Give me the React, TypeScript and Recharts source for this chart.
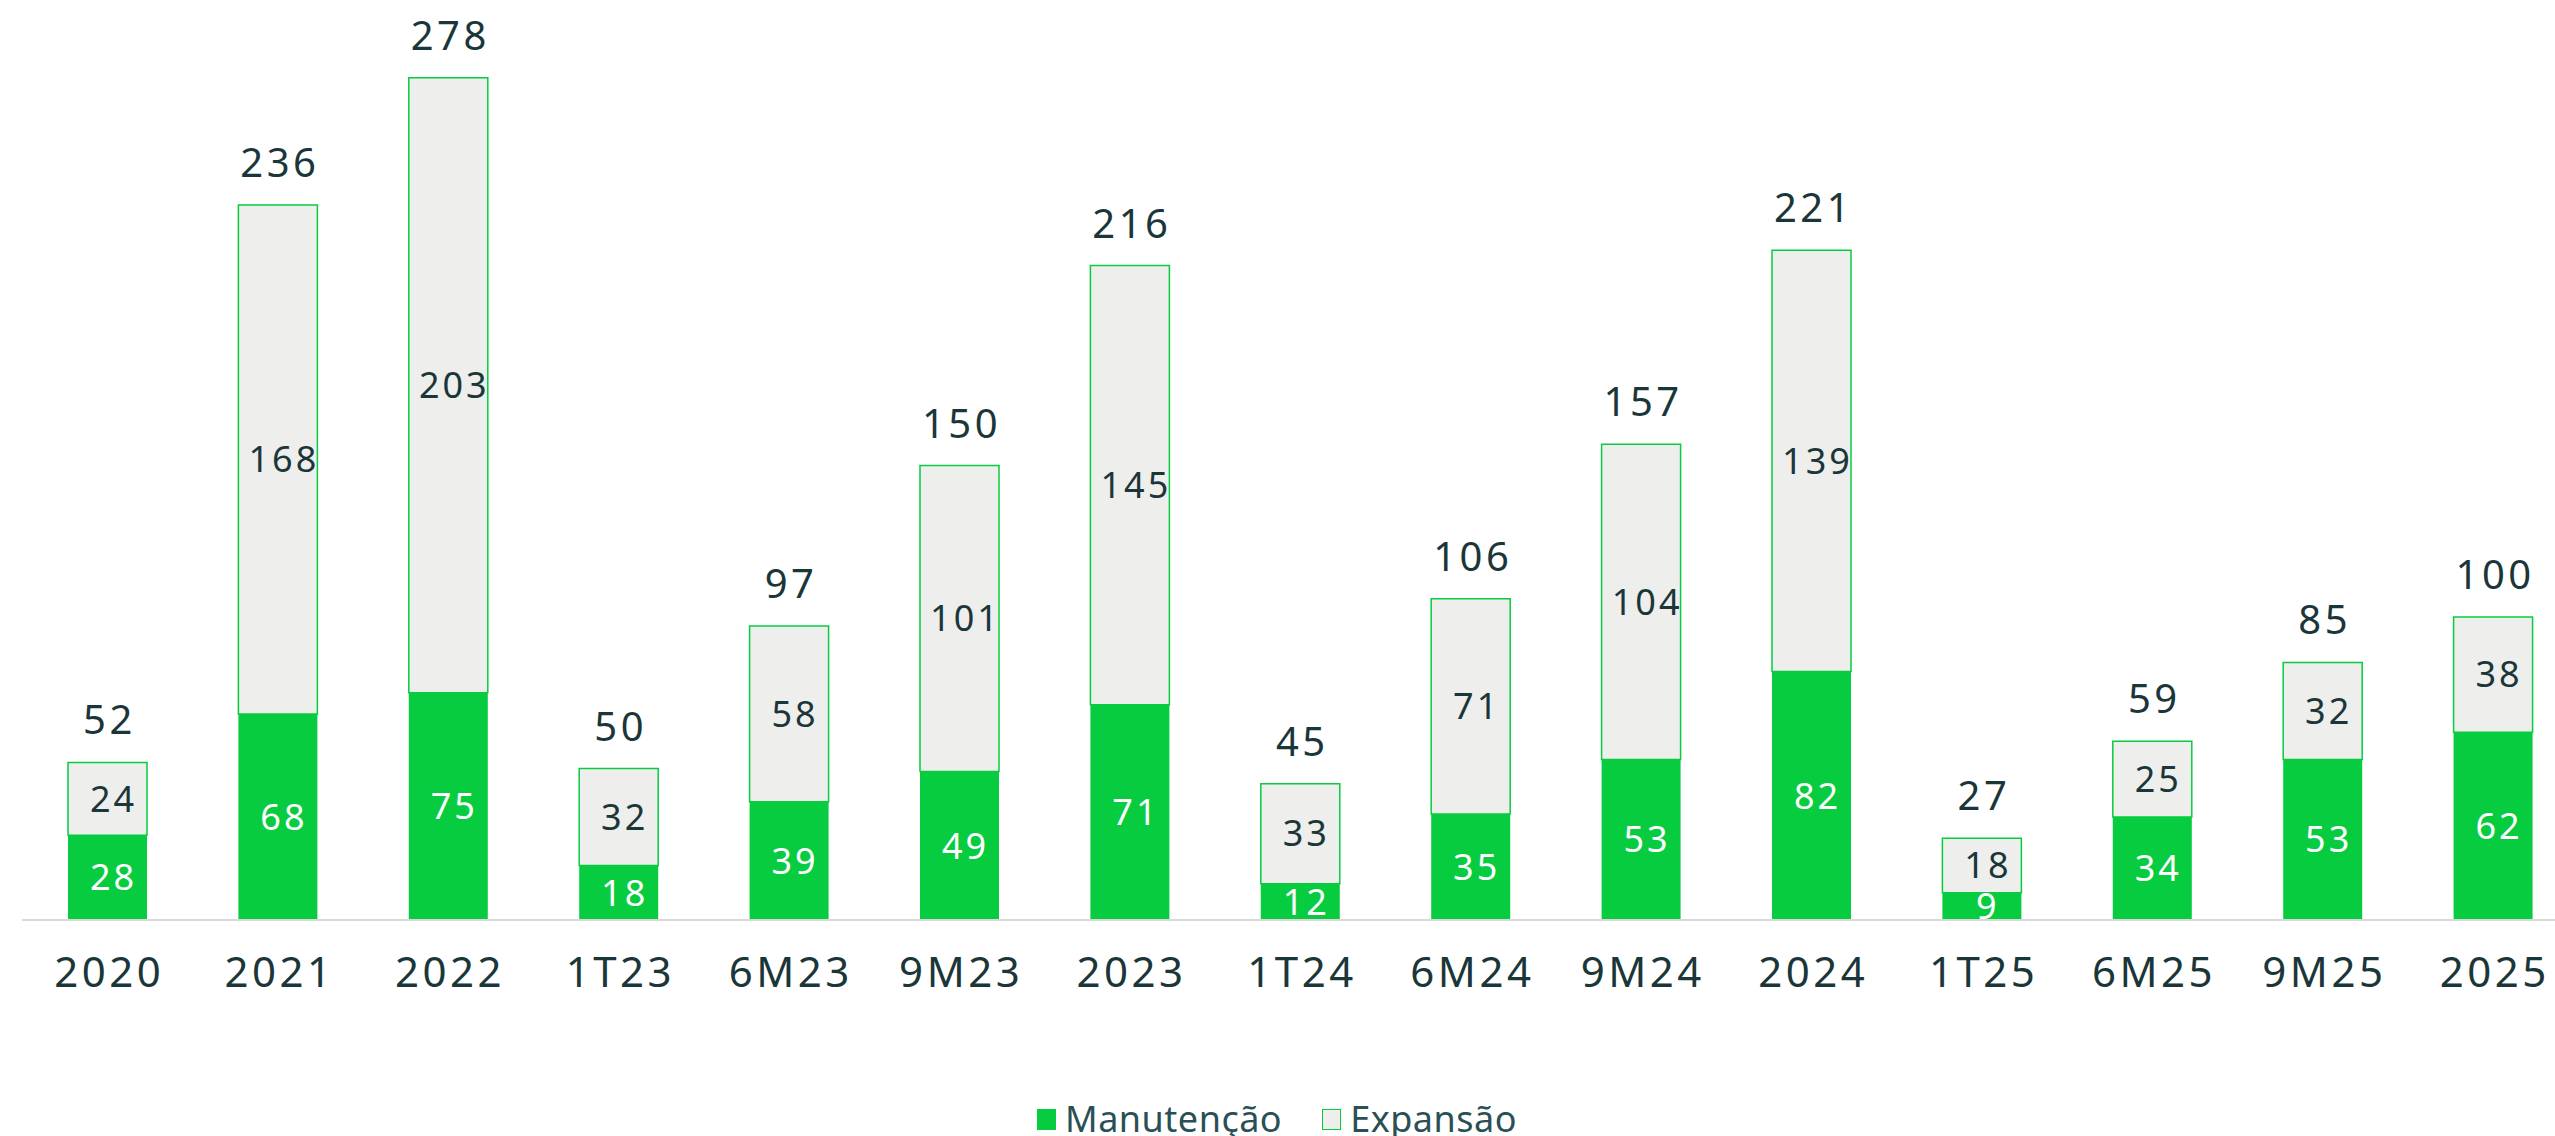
import React from 'react';
import { BarChart, Bar, XAxis, YAxis, LabelList } from 'recharts';

const categories = ['2020', '2021', '2022', '1T23', '6M23', '9M23', '2023', '1T24', '6M24', '9M24', '2024', '1T25', '6M25', '9M25', '2025'];
const manutencao = [28, 68, 75, 18, 39, 49, 71, 12, 35, 53, 82, 9, 34, 53, 62];
const expansao = [24, 168, 203, 32, 58, 101, 145, 33, 71, 104, 139, 18, 25, 32, 38];
const totais = [52, 236, 278, 50, 97, 150, 216, 45, 106, 157, 221, 27, 59, 85, 100];

const GREEN = '#08cc3f';
const GREY = '#eeeeec';
const TEXT = '#1b3639';
const FONT = '"Noto Sans", sans-serif';

const data = categories.map((cat, i) => ({
  cat,
  manutencao: manutencao[i],
  expansao: expansao[i],
  total: totais[i],
}));

export default function App() {
  return (
    <div style={{ position: 'absolute', left: 0, top: 0, width: 2555, height: 1136, overflow: 'hidden', background: '#fff', fontFamily: FONT }}>
      <BarChart
        width={2580}
        height={1136}
        data={data}
        margin={{ top: 11, left: 22, right: 2, bottom: 0 }}
        barSize={79}
      >
        <YAxis hide domain={[0, 300]} />
        <XAxis
          dataKey="cat"
          height={216}
          axisLine={{ stroke: '#d9d9d9', strokeWidth: 2 }}
          tickLine={false}
          tickMargin={31}
          tick={{ fontSize: 42, fill: TEXT, fontFamily: FONT, letterSpacing: 3.5, dx: 2 }}
          interval={0}
        />
        <Bar dataKey="manutencao" stackId="a" fill={GREEN} isAnimationActive={false}>
          <LabelList dataKey="manutencao" position="center" dx={6} fill="#ffffff" fontSize={36} fontFamily={FONT} style={{ letterSpacing: 3 }} />
        </Bar>
        <Bar dataKey="expansao" stackId="a" fill={GREY} stroke={GREEN} strokeWidth={1.5} isAnimationActive={false}>
          <LabelList dataKey="expansao" position="center" dx={6} fill={TEXT} fontSize={36} fontFamily={FONT} style={{ letterSpacing: 3 }} />
          <LabelList dataKey="total" position="top" offset={28} dx={2} fill={TEXT} fontSize={40} fontFamily={FONT} style={{ letterSpacing: 3.5 }} />
        </Bar>
      </BarChart>
      <div style={{ position: 'absolute', left: 1037, top: 1097, display: 'flex', alignItems: 'center', fontSize: 36, color: '#2a5055', lineHeight: '44px', letterSpacing: 0.5 }}>
        <span style={{ display: 'inline-block', width: 19, height: 21, background: GREEN, marginRight: 9 }} />
        <span>Manutenção</span>
        <span style={{ display: 'inline-block', width: 17, height: 19, background: GREY, border: `1px solid ${GREEN}`, marginLeft: 40, marginRight: 9 }} />
        <span>Expansão</span>
      </div>
    </div>
  );
}
